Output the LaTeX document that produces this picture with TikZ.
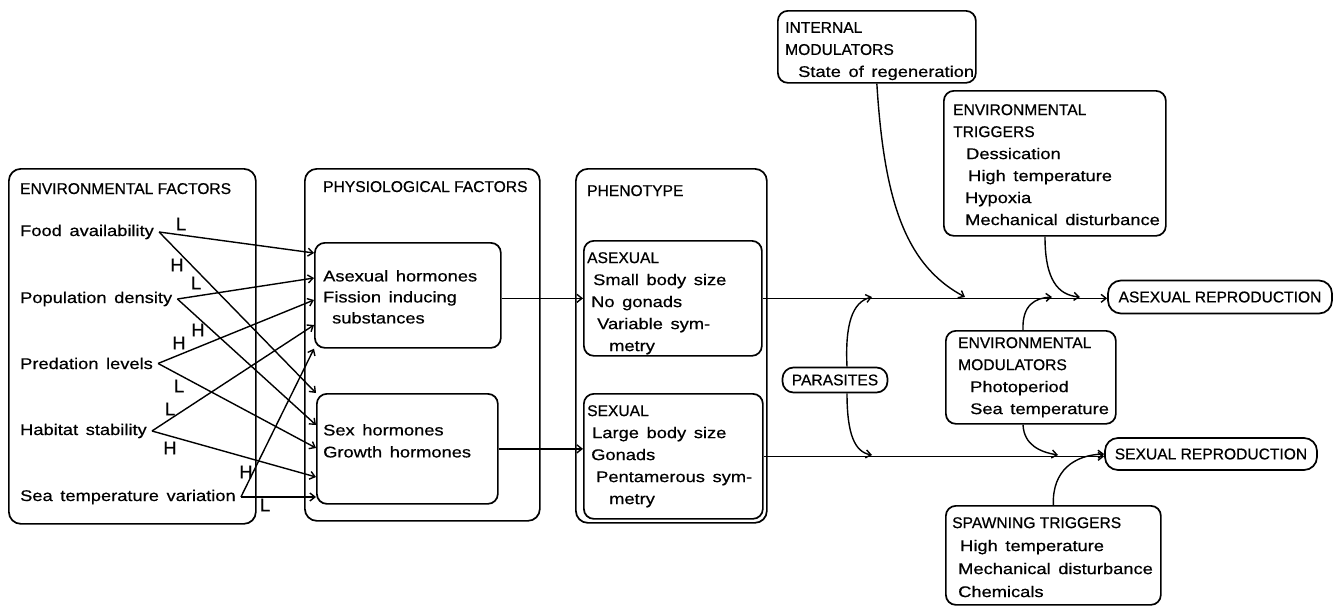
\documentclass[tikz,border=0pt]{standalone}
\usepackage{fontspec}
\setmainfont{Liberation Sans}
\newfontfamily\bodyfam{Liberation Sans}[FakeStretch=1.18,WordSpace=1.5,FakeBold=0.6]
\newfontfamily\capfam{Liberation Sans}[FakeBold=0.6]
\newcommand\bodyf{\bodyfam\fontsize{15.5}{22}\selectfont}
\newcommand\capf{\capfam\fontsize{15.6}{22}\selectfont}
\newcommand\lblf{\capfam\fontsize{18.5}{20}\selectfont}
\usetikzlibrary{arrows.meta}
\begin{document}
\begin{tikzpicture}[x=1pt,y=-1pt,
 bigbox/.style={draw, line width=1.7pt, rounded corners=12pt, anchor=north west, inner sep=0pt},
 inbox/.style={draw, line width=1.7pt, rounded corners=10pt, anchor=north west, inner sep=0pt},
 pill/.style={draw, line width=1.7pt, rounded corners=13pt, inner sep=0pt, font=\capf},
 hdr/.style={anchor=base west, inner sep=0pt, font=\capf},
 txt/.style={anchor=north west, inner sep=0pt, align=left, font=\bodyf},
 fac/.style={anchor=base west, inner xsep=5pt, inner ysep=0pt, font=\bodyf},
 lbl/.style={inner sep=0pt, font=\lblf},
 conn/.style={line width=1.4pt, -{Straight Barb[length=5pt,width=8pt]}},
]
\useasboundingbox (0,0) rectangle (1339,608);

% big boxes
\node[bigbox, minimum width=247pt, minimum height=355pt] (env) at (8,168) {};
\node[bigbox, minimum width=235pt, minimum height=352pt] (phys) at (304,168) {};
\node[bigbox, minimum width=191pt, minimum height=354pt] (phen) at (575,168) {};

% inner boxes
\node[inbox, minimum width=186pt, minimum height=105pt] (ahb) at (314,242) {};
\node[inbox, minimum width=181pt, minimum height=110pt] (shb) at (316,393) {};
\node[inbox, minimum width=178pt, minimum height=115pt] (asx) at (583,240) {};
\node[inbox, minimum width=179pt, minimum height=125pt] (sx) at (583,393) {};
\node[inbox, minimum width=198pt, minimum height=72pt] (intm) at (777,10) {};
\node[inbox, minimum width=222pt, minimum height=145pt] (envt) at (943,90) {};
\node[inbox, minimum width=170pt, minimum height=93pt] (envm) at (945,330) {};
\node[inbox, minimum width=215pt, minimum height=99pt] (spt) at (945,505) {};

% pills
\node[pill, minimum width=105pt, minimum height=25pt, rounded corners=11pt] (par) at (835,380) {PARASITES};
\node[pill, minimum width=224pt, minimum height=33pt] (asr) at (1220,297) {ASEXUAL REPRODUCTION};
\node[pill, minimum width=212pt, minimum height=32pt] (sr) at (1211,454) {SEXUAL REPRODUCTION};

% headers
\node[hdr] (envh) at (20,194) {ENVIRONMENTAL FACTORS};
\node[hdr] (physh) at (323,192) {PHYSIOLOGICAL FACTORS};
\node[hdr] (phenh) at (587,196) {PHENOTYPE};

% factors
\node[fac] (food) at (15,236) {Food availability};
\node[fac] (pop) at (15,303) {Population density};
\node[fac] (pred) at (15,369) {Predation levels};
\node[fac] (hab) at (15,435) {Habitat stability};
\node[fac] (sea) at (15,501) {Sea temperature variation};

% box texts
\node[txt, font={\bodyfam\fontsize{15.5}{21}\selectfont}] (ahbt) at (323,270) {Asexual hormones\\Fission inducing\\\hspace{9pt}substances};
\node[txt] (shbt) at (323,424) {Sex hormones\\Growth hormones};
\node[txt] (asxt) at (587,252) {{\capf ASEXUAL}\\\hspace{6pt}Small body size\\\hspace{4pt}No gonads\\\hspace{10pt}Variable sym-\\\hspace{22pt}metry};
\node[txt] (sxt) at (587,405) {{\capf SEXUAL}\\\hspace{5pt}Large body size\\\hspace{4pt}Gonads\\\hspace{9pt}Pentamerous sym-\\\hspace{22pt}metry};
\node[txt] (intmt) at (785,22) {{\capf INTERNAL}\\{\capf MODULATORS}\\\hspace{13pt}State of regeneration};
\node[txt] (envtt) at (953,104) {{\capf ENVIRONMENTAL}\\{\capf TRIGGERS}\\\hspace{13pt}Dessication\\\hspace{15pt}High temperature\\\hspace{12pt}Hypoxia\\\hspace{12pt}Mechanical disturbance};
\node[txt] (envmt) at (958,337) {{\capf ENVIRONMENTAL}\\{\capf MODULATORS}\\\hspace{12pt}Photoperiod\\\hspace{12pt}Sea temperature};
\node[txt, font={\bodyfam\fontsize{15.5}{23}\selectfont}] (sptt) at (952,517) {{\capf SPAWNING TRIGGERS}\\\hspace{8pt}High temperature\\\hspace{6pt}Mechanical disturbance\\\hspace{6pt}Chemicals};

% L/H labels
\node[lbl] (l1) at (181,224) {L};
\node[lbl] (h1) at (177,265) {H};
\node[lbl] (l2) at (196,283) {L};
\node[lbl] (h2) at (198,330) {H};
\node[lbl] (h3) at (179,343) {H};
\node[lbl] (l3) at (179,386) {L};
\node[lbl] (l4) at (170,409) {L};
\node[lbl] (h4) at (170,448) {H};
\node[lbl] (h5) at (246,472) {H};
\node[lbl] (l5) at (265,505) {L};

% factor -> physiological arrows
\draw[conn] (food.east) -- (ahb.west |- 0,253);
\draw[conn] (food.east) -- (shb.north west);
\draw[conn] (pop.east) -- (ahb.west |- 0,278);
\draw[conn] (pop.east) -- (shb.west |- 0,425);
\draw[conn] (pred.east) -- (ahb.west |- 0,300);
\draw[conn] (pred.east) -- (shb.west |- 0,448);
\draw[conn] (hab.east) -- (ahb.west |- 0,325);
\draw[conn] (hab.east) -- (shb.west |- 0,477);
\draw[conn] (sea.east) -- (ahb.south west);
\draw[conn] (sea.east) -- (shb.west |- sea.east);

% physiological -> phenotype
\draw[conn] (ahb.east |- asx.west) -- (asx.west);
\draw[conn] (shb.east) -- (shb.east -| sx.west);

% phenotype -> reproduction
\draw[conn] (asx.east) -- (asx.east -| asr.west);
\draw[conn] (sx.east) -- (sx.east -| sr.west);

% modulator coordinates on main lines
\coordinate (t1) at (965,297);
\coordinate (t2) at (1080,297);
\coordinate (t3) at (1052,297);
\coordinate (t4) at (1058,455);
\coordinate (p1) at (872,297);
\coordinate (p2) at (872,455);

\draw[conn] (intm.south) .. controls (884,200) and (905,265) .. (t1);
\draw[conn] (envt.south -| 1045,0) .. controls (1045,280) and (1058,295) .. (t2);
\draw[conn] (envm.north -| 1023,0) .. controls (1022,305) and (1035,298) .. (t3);
\draw[conn] (envm.south -| 1023,0) .. controls (1024,445) and (1040,452) .. (t4);
\draw[conn] (spt.north) .. controls (1052,470) and (1075,455) .. (sr.west);
\draw[conn] ([xshift=12pt]par.north) .. controls (845,325) and (852,302) .. (p1);
\draw[conn] ([xshift=12pt]par.south) .. controls (847,435) and (855,452) .. (p2);
\end{tikzpicture}
\end{document}
